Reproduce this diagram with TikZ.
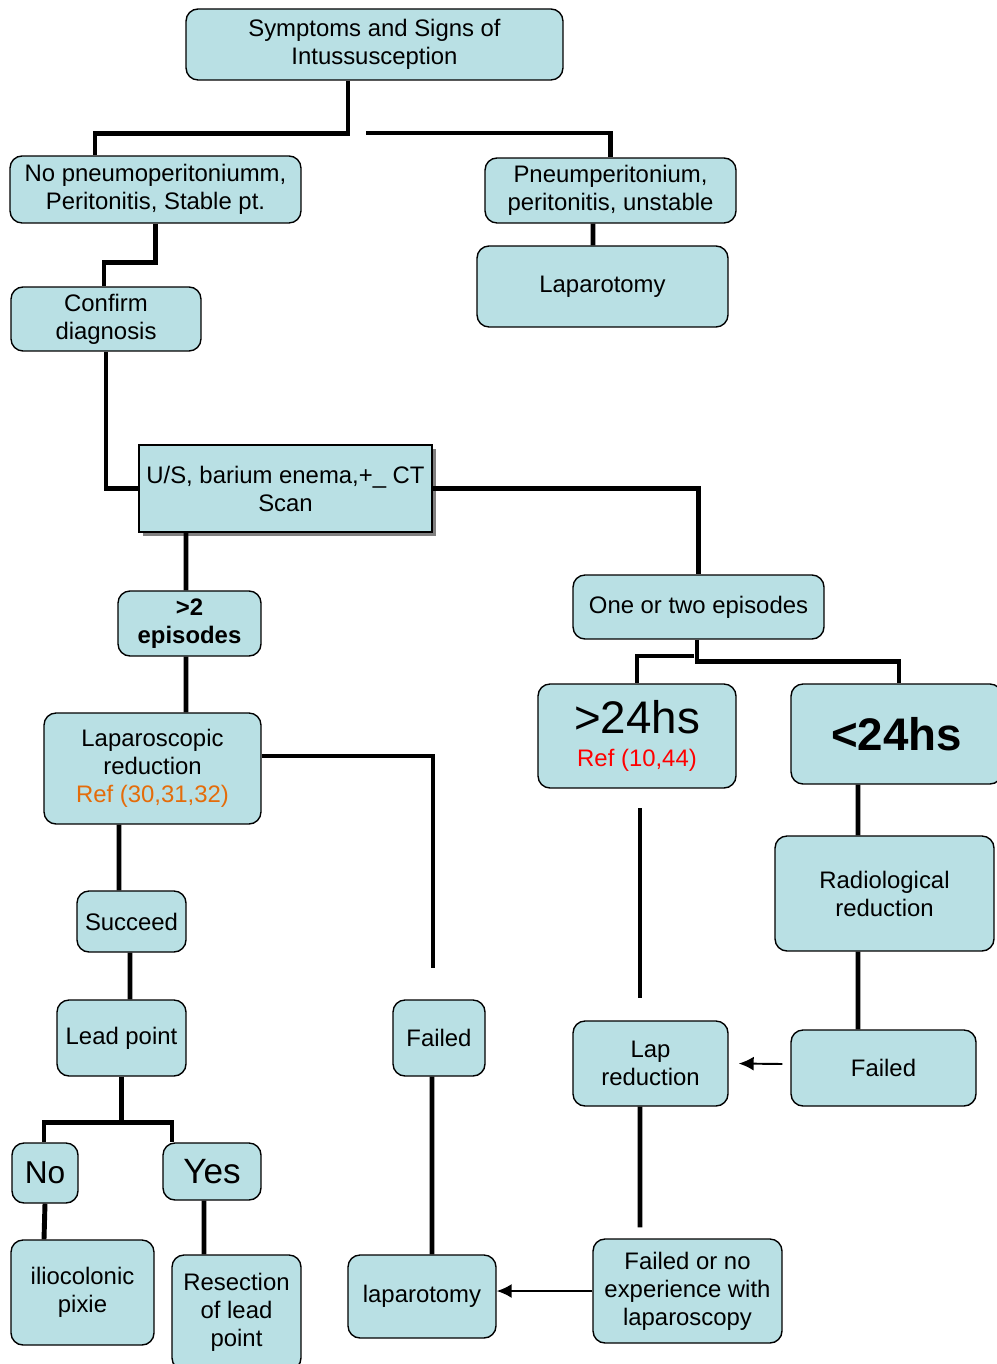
\documentclass[tikz,border=0pt]{standalone}
\usepackage{fontspec}
\setmainfont{Liberation Sans}
\usepackage{tikz}
\usetikzlibrary{arrows.meta,shadows}

\definecolor{boxblue}{RGB}{185,224,228}
\definecolor{reforange}{RGB}{228,108,10}
\newcommand{\boxfont}{\fontsize{13.6}{15.9}\selectfont}
\newcommand{\hugefont}{\fontsize{26}{30}\selectfont}

\tikzset{
  box/.style={draw, fill=boxblue, rounded corners=0.24cm, line width=0.8pt,
    align=center, inner sep=1pt, font=\boxfont},
  sqbox/.style={box, sharp corners,
    drop shadow={shadow xshift=0.08cm, shadow yshift=-0.08cm, fill=black!50, opacity=1}},
  link/.style={line width=2.8pt},
  thin arrow/.style={line width=1.1pt, -{Latex[length=0.3cm,width=0.28cm]}},
}

\begin{document}
\begin{tikzpicture}[x=0.02cm, y=-0.02cm]
    \useasboundingbox (0,0) rectangle (996,1364);

    % Nodes {top, first split, diagnosis}
    \node [box, minimum width=7.54cm, minimum height=1.42cm] (top)     at (374.5,44.5)  {Symptoms and Signs of\\Intussusception};
    \node [box, minimum width=5.82cm, minimum height=1.34cm] (nopneu)  at (155.5,189.5) {No pneumoperitoniumm,\\Peritonitis, Stable pt.};
    \node [box, minimum width=5.02cm, minimum height=1.30cm] (pneu)    at (610.5,190.5) {Pneumperitonium,\\peritonitis, unstable};
    \node [box, minimum width=5.02cm, minimum height=1.62cm] (lapt)    at (602.5,286.5) {Laparotomy};
    \node [box, minimum width=3.80cm, minimum height=1.28cm] (confirm) at (106,319)     {Confirm\\diagnosis};
    \node [sqbox, minimum width=5.86cm, minimum height=1.74cm] (us)    at (285.5,488.5) {U/S, barium enema,+\_ CT\\Scan};

    % Nodes {episodes}
    \node [box, minimum width=2.86cm, minimum height=1.30cm, font=\boxfont\bfseries] (gt2) at (189.5,623.5) {>2\\episodes};
    \node [box, minimum width=5.02cm, minimum height=1.28cm] (onetwo)  at (698.5,607)   {One or two episodes};
    \node [box, minimum width=4.34cm, minimum height=2.22cm] (lapred)  at (152.5,768.5) {Laparoscopic\\reduction\\\textcolor{reforange}{Ref (30,31,32)}};
    \node [box, minimum width=3.96cm, minimum height=2.08cm] (gt24)    at (637,736)     {{\hugefont >24hs}\\[0.1cm]\textcolor{red}{Ref (10,44)}};
    \node [box, minimum width=4.22cm, minimum height=2.00cm, font=\hugefont\bfseries] (lt24) at (896.5,734) {<24hs};
    \node [box, minimum width=4.38cm, minimum height=2.30cm] (radio)   at (884.5,893.5) {Radiological\\reduction};

    % Nodes {outcomes}
    \node [box, minimum width=2.18cm, minimum height=1.22cm] (succeed)  at (131.5,921.5) {Succeed};
    \node [box, minimum width=2.58cm, minimum height=1.52cm] (leadpt)   at (121.5,1038)  {Lead point};
    \node [box, minimum width=1.84cm, minimum height=1.52cm] (failedA)  at (439,1038)    {Failed};
    \node [box, minimum width=3.10cm, minimum height=1.70cm] (laprd)    at (650.5,1063.5) {Lap\\reduction};
    \node [box, minimum width=3.70cm, minimum height=1.52cm] (failedB)  at (883.5,1068)  {Failed};
    \node [box, minimum width=1.32cm, minimum height=1.20cm, font=\fontsize{18}{21}\selectfont] (no)  at (45,1173)    {No};
    \node [box, minimum width=1.96cm, minimum height=1.14cm, font=\fontsize{20}{23}\selectfont] (yes) at (212,1171.5) {Yes};
    \node [box, minimum width=2.86cm, minimum height=2.10cm] (ilio)     at (82.5,1292.5) {iliocolonic\\pixie};
    \node [box, minimum width=2.58cm, minimum height=2.30cm] (resect)   at (236.5,1312.5) {Resection\\of lead\\point};
    \node [box, minimum width=2.96cm, minimum height=1.66cm] (laparotomy) at (422,1296.5) {laparotomy};
    \node [box, minimum width=3.78cm, minimum height=2.08cm] (failedno) at (687.5,1291)  {Failed or no\\experience with\\laparoscopy};

    % Loose ends
    \coordinate (rb)   at (366,133);
    \coordinate (fend) at (433,968);
    \coordinate (lb)   at (694,656);
    \coordinate (ga)   at (640,808);
    \coordinate (gb)   at (640,998);

    % Paths
    \draw [link] ([xshift=-0.53cm]top.south) -- ++(0,53) -| ([xshift=-1.21cm]nopneu.north);
    \draw [link] (rb) -| (pneu.north);
    \draw [link] ([xshift=-0.35cm]pneu.south) -- ([xshift=-0.19cm]lapt.north);
    \draw [link] (nopneu.south) -- ++(0,39) -| ([xshift=-0.04cm]confirm.north);
    \draw [link] (confirm.south) |- (us.west);
    \draw [link] (us.east) -| (onetwo.north);
    \draw [link] ([xshift=-1.99cm]us.south) -- ([xshift=-0.07cm]gt2.north);
    \draw [link] ([xshift=-0.07cm]gt2.south) -- ([xshift=0.67cm]lapred.north);
    \draw [link] ([yshift=0.25cm]lapred.east) -| (fend);
    \draw [link] ([xshift=-0.67cm]lapred.south) -- ([xshift=-0.25cm]succeed.north);
    \draw [link] ([xshift=-0.03cm]succeed.south) -- ([xshift=0.17cm]leadpt.north);
    \draw [link] (leadpt.south) -- ++(0,46) coordinate (split);
    \draw [link] ([xshift=-0.02cm]no.north) |- (split) -| ([xshift=-0.8cm]yes.north);
    \draw [link] (no.south) -- ([xshift=-0.77cm]ilio.north);
    \draw [link] ([xshift=-0.16cm]yes.south) -- ([xshift=-0.65cm]resect.north);
    \draw [link] ([xshift=-0.14cm]failedA.south) -- ([xshift=0.2cm]laparotomy.north);
    \draw [link] ([xshift=-0.03cm]onetwo.south) -- ++(0,22) -| ([xshift=0.05cm]lt24.north);
    \draw [link] (lb) -| (gt24.north);
    \draw [link] (ga) -- (gb);
    \draw [link] ([xshift=-0.77cm]lt24.south) -- ([xshift=-0.53cm]radio.north);
    \draw [link] ([xshift=-0.53cm]radio.south) -- ([xshift=-0.51cm]failedB.north);
    \draw [thin arrow] ([xshift=-0.16cm,yshift=0.08cm]failedB.west) -- ([xshift=0.2cm]laprd.east);
    \draw [link] ([xshift=-0.21cm]laprd.south) -- ([xshift=-0.95cm,yshift=0.22cm]failedno.north);
    \draw [thin arrow] (failedno.west) -- (failedno.west -| laparotomy.east);
\end{tikzpicture}
\end{document}
